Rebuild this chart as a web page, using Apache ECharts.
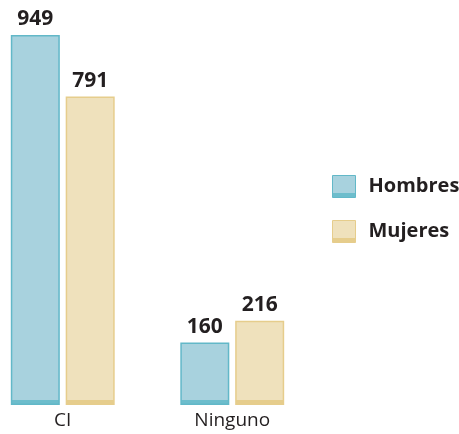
<!DOCTYPE html>
<html><head><meta charset="utf-8">
<script src="https://cdn.jsdelivr.net/npm/echarts@6/dist/echarts.min.js"></script>
<style>html,body{margin:0;padding:0;background:#fff}#c{width:459px;height:434px}</style>
</head><body><div id="c"></div>
<script>
const categories = ['CI', 'Ninguno'];
const seriesNames = ['Hombres', 'Mujeres'];
const hombres = [949, 160];
const mujeres = [791, 216];

const H = 434, bandY = 400;
function fillGrad(fill, band) {
  const o = bandY / H;
  return new echarts.graphic.LinearGradient(0, 0, 0, H, [
    {offset: 0, color: fill}, {offset: o, color: fill},
    {offset: o, color: band}, {offset: 1, color: band}
  ], true);
}
function iconGrad(fill, band) {
  return new echarts.graphic.LinearGradient(0, 0, 0, 1, [
    {offset: 0, color: fill}, {offset: 0.78, color: fill},
    {offset: 0.78, color: band}, {offset: 1, color: band}
  ]);
}
const cH = {fill: '#a8d2de', border: '#62b8c8', band: '#6dbdcc'};
const cM = {fill: '#efe1bc', border: '#e6cd8c', band: '#e6cd8c'};
const font = '"Open Sans", "Noto Sans", sans-serif';

const chart = echarts.init(document.getElementById('c'));
chart.setOption({
  animation: false,
  grid: {left: -22, width: 339, top: 15, bottom: 29, containLabel: false, outerBoundsMode: 'none'},
  xAxis: {
    type: 'category', data: categories,
    axisLine: {show: false}, axisTick: {show: false},
    axisLabel: {color: '#231f20', fontSize: 19, fontFamily: font, margin: 6}
  },
  yAxis: {type: 'value', min: 0, max: 1000, show: false, splitLine: {show: false}},
  legend: {
    orient: 'vertical', left: 332, top: 175, padding: 0, itemWidth: 23, itemHeight: 22, itemGap: 22,
    textStyle: {color: '#231f20', fontSize: 20, fontWeight: 'bold', fontFamily: font, padding: [0,0,0,8]},
    data: [
      {name: seriesNames[0], icon: 'rect', itemStyle: {color: iconGrad(cH.fill, cH.band), borderColor: cH.border, borderWidth: 1}},
      {name: seriesNames[1], icon: 'rect', itemStyle: {color: iconGrad(cM.fill, cM.band), borderColor: cM.border, borderWidth: 1}}
    ]
  },
  series: [
    {
      name: seriesNames[0], type: 'bar', data: hombres, barWidth: 49, barGap: '12%',
      itemStyle: {color: fillGrad(cH.fill, cH.band), borderColor: cH.border, borderWidth: 1.5},
      label: {show: true, position: 'top', distance: 5, color: '#231f20', fontSize: 21, fontWeight: 'bold', fontFamily: font}
    },
    {
      name: seriesNames[1], type: 'bar', data: mujeres, barWidth: 49,
      itemStyle: {color: fillGrad(cM.fill, cM.band), borderColor: cM.border, borderWidth: 1.5},
      label: {show: true, position: 'top', distance: 5, color: '#231f20', fontSize: 21, fontWeight: 'bold', fontFamily: font}
    }
  ]
});
</script></body></html>
